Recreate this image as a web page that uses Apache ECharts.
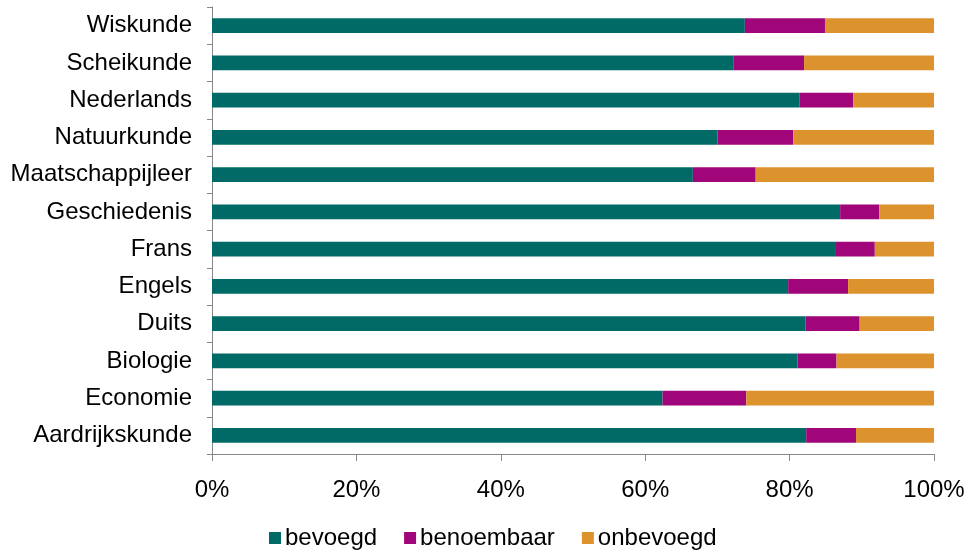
<!DOCTYPE html>
<html>
<head>
<meta charset="utf-8">
<script src="https://cdn.jsdelivr.net/npm/echarts@6/dist/echarts.min.js"></script>
<style>
html,body{margin:0;padding:0;background:#fff;}
#chart{width:968px;height:551px;}
</style>
</head>
<body>
<div id="chart"></div>
<script>
// Categories (bottom to top, as ECharts draws a category y axis)
const categories = ['Aardrijkskunde','Economie','Biologie','Duits','Engels','Frans','Geschiedenis','Maatschappijleer','Natuurkunde','Nederlands','Scheikunde','Wiskunde'];
const seriesNames = ['bevoegd','benoembaar','onbevoegd'];
const bevoegd    = [82.3, 62.4, 81.1, 82.2, 79.8, 86.3, 87.0, 66.6, 70.0, 81.4, 72.2, 73.8];
const benoembaar = [ 6.9, 11.6,  5.4,  7.5,  8.3,  5.5,  5.4,  8.7, 10.5,  7.4,  9.8, 11.1];
const onbevoegd  = [10.8, 26.0, 13.5, 10.3, 11.9,  8.2,  7.6, 24.7, 19.5, 11.2, 18.0, 15.1];
const xTicks = [0, 20, 40, 60, 80, 100];

const colors = ['#006b66', '#a0057a', '#dd932d'];
const font = 'Liberation Sans, Arial, Helvetica, sans-serif';
const fs = 24;

const chart = echarts.init(document.getElementById('chart'), null, {renderer:'canvas'});
const dataSets = [bevoegd, benoembaar, onbevoegd];
chart.setOption({
  animation: false,
  color: colors,
  grid: {left: 212, right: 34, top: 7, bottom: 97, containLabel: false},
  legend: {
    data: seriesNames,
    left: 264, top: 521,
    itemWidth: 12, itemHeight: 12, itemGap: 27,
    icon: 'rect',
    textStyle: {fontFamily: font, fontSize: fs, color: '#000', padding: [0, 0, 0, -1]}
  },
  xAxis: {
    type: 'value', min: xTicks[0], max: xTicks[xTicks.length-1], interval: 20,
    axisLine: {show: true, lineStyle: {color: '#868686', width: 1}},
    axisTick: {show: true, length: 7, lineStyle: {color: '#868686'}},
    splitLine: {show: false},
    axisLabel: {formatter: '{value}%', margin: 24, fontFamily: font, fontSize: fs, color: '#000'}
  },
  yAxis: {
    type: 'category', data: categories,
    axisLine: {show: true, lineStyle: {color: '#868686', width: 1}},
    axisTick: {show: true, length: 5, lineStyle: {color: '#868686'}},
    axisLabel: {margin: 20, fontFamily: font, fontSize: fs, color: '#000', padding: [2, 0, 0, 0]}
  },
  series: seriesNames.map((n, i) => ({
    name: n, type: 'bar', stack: 'total', barWidth: '40%',
    data: dataSets[i]
  }))
});
</script>
</body>
</html>
